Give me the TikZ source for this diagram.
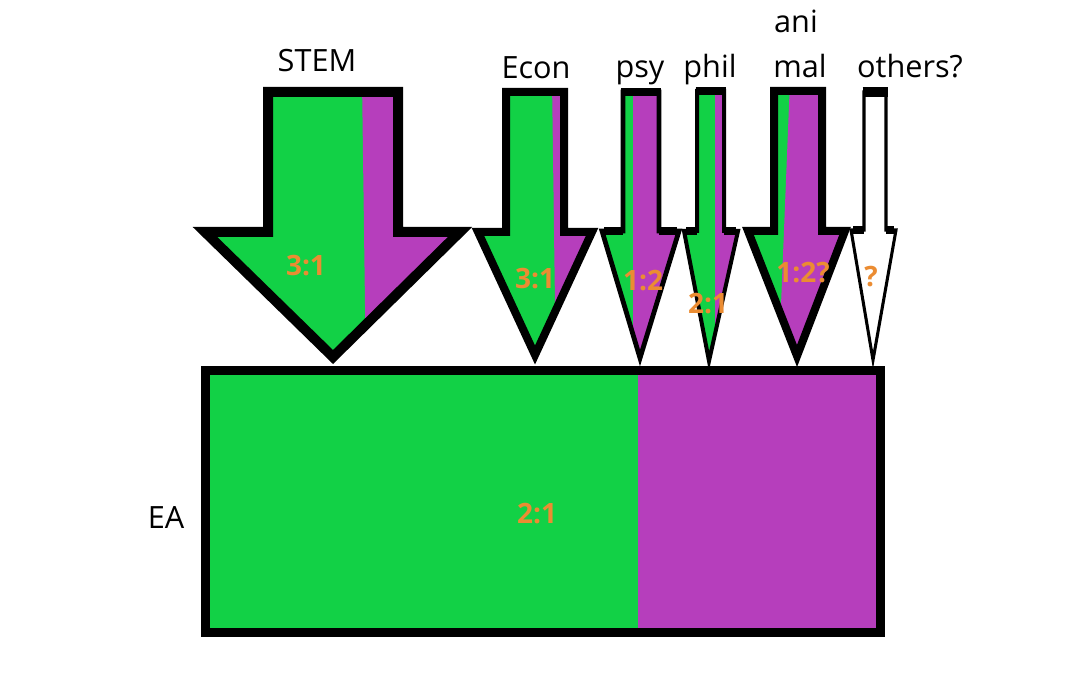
\documentclass[tikz,border=0pt]{standalone}
\usepackage{fontspec}
\setmainfont{Open Sans}
\definecolor{eagreen}{RGB}{18,209,70}
\definecolor{eapurple}{RGB}{182,62,188}
\definecolor{eaorange}{RGB}{235,140,50}
\tikzset{
  lbl/.style={anchor=base, inner sep=0pt, font=\fontsize{23}{27}\selectfont},
  ratio/.style={anchor=base, inner sep=0pt, text=eaorange, font=\bfseries\fontsize{21}{25}\selectfont},
  outline/.style={draw=black, line join=miter},
  bar/.style={draw=black, line cap=butt},
}
\begin{document}
\begin{tikzpicture}[x=0.75pt, y=-0.75pt]
\useasboundingbox (0,0) rectangle (1066,684);
\fill[white] (0,0) rectangle (1066,684);

% ---------- EA box ----------
\fill[eagreen] (205.5,370.5) rectangle (638,632.5);
\fill[eapurple] (638,370.5) rectangle (880.5,632.5);
\draw[outline, line width=6.75pt] (205.5,370.5) rectangle (880.5,632.5);

% ---------- STEM arrow ----------
\begin{scope}
\clip (268,92) -- (398,92) -- (398,232) -- (460,232) -- (333,357) -- (205,232) -- (268,232) -- cycle;
\fill[eagreen] (190,80) rectangle (480,380);
\fill[eapurple] (362,80) -- (480,80) -- (480,380) -- (366,380) -- cycle;
\end{scope}
\draw[outline, line width=7.5pt] (268,92) -- (398,92) -- (398,232) -- (460,232) -- (333,357) -- (205,232) -- (268,232) -- cycle;

% ---------- Econ arrow ----------
\begin{scope}
\clip (506,92) -- (564,92) -- (564,232) -- (592,232) -- (535,355) -- (478,232) -- (506,232) -- cycle;
\fill[eagreen] (470,80) rectangle (600,380);
\fill[eapurple] (552,80) -- (600,80) -- (600,380) -- (556,380) -- cycle;
\end{scope}
\draw[outline, line width=6pt] (506,92) -- (564,92) -- (564,232) -- (592,232) -- (535,355) -- (478,232) -- (506,232) -- cycle;

% ---------- psy arrow ----------
\begin{scope}
\clip (623,92) -- (659,92) -- (659,231) -- (679,231) -- (640,358) -- (602,231) -- (623,231) -- cycle;
\fill[eagreen] (595,80) rectangle (685,380);
\fill[eapurple] (633,80) rectangle (685,380);
\end{scope}
\draw[outline, line width=3.6pt] (623,92) -- (659,92) -- (659,231) -- (679,231) -- (640,358) -- (602,231) -- (623,231) -- cycle;
\draw[bar, line width=6.5pt] (621,92) -- (661,92);
\draw[bar, line width=6pt] (604,231) -- (623,231) (659,231) -- (677,231);

% ---------- phil arrow ----------
\begin{scope}
\clip (697,91) -- (724,91) -- (724,231) -- (738,231) -- (709,361) -- (684,231) -- (697,231) -- cycle;
\fill[eagreen] (680,80) rectangle (745,380);
\fill[eapurple] (715,80) rectangle (745,380);
\end{scope}
\draw[outline, line width=3pt] (697,91) -- (724,91) -- (724,231) -- (738,231) -- (709,361) -- (684,231) -- (697,231) -- cycle;
\draw[bar, line width=5.5pt] (695.5,91) -- (725.5,91);
\draw[bar, line width=6pt] (686,231) -- (697,231) (724,231) -- (736,231);

% ---------- animal arrow ----------
\begin{scope}
\clip (774,91) -- (822,91) -- (822,231) -- (845,231) -- (797,356) -- (748,231) -- (774,231) -- cycle;
\fill[eagreen] (740,80) rectangle (855,380);
\fill[eapurple] (790,80) -- (855,80) -- (855,380) -- (778,380) -- cycle;
\end{scope}
\draw[outline, line width=6pt] (774,91) -- (822,91) -- (822,231) -- (845,231) -- (797,356) -- (748,231) -- (774,231) -- cycle;

% ---------- others arrow ----------
\fill[white] (864,92) -- (886,92) -- (886,230) -- (896,230) -- (873,360) -- (851,230) -- (864,230) -- cycle;
\draw[outline, line width=2.3pt] (864,92) -- (886,92) -- (886,230) -- (896,230) -- (873,360) -- (851,230) -- (864,230) -- cycle;
\draw[bar, line width=7.5pt] (862.5,92) -- (887.5,92);
\draw[bar, line width=6pt] (853,230) -- (864,230) (886,230) -- (894,230);

% ---------- labels ----------
\node[lbl] (stem) at (317,72) {STEM};
\node[lbl] (econ) at (536,79) {Econ};
\node[lbl] (psy) at (640,78) {psy};
\node[lbl] (phil) at (710,78) {phil};
\node[lbl] (ani) at (796,33) {ani};
\node[lbl] (mal) at (800,78) {mal};
\node[lbl] (others) at (910,78) {others?};
\node[lbl] (ea) at (166,528) {EA};

% ---------- ratios ----------
\node[ratio] (r1) at (306,275) {3:1};
\node[ratio] (r2) at (535,288) {3:1};
\node[ratio] (r3) at (643,290) {1:2};
\node[ratio] (r4) at (708,313) {2:1};
\node[ratio] (r5) at (803,282) {1:2?};
\node[ratio] (r6) at (871,286) {?};
\node[ratio] (r7) at (537,523) {2:1};
\end{tikzpicture}
\end{document}
